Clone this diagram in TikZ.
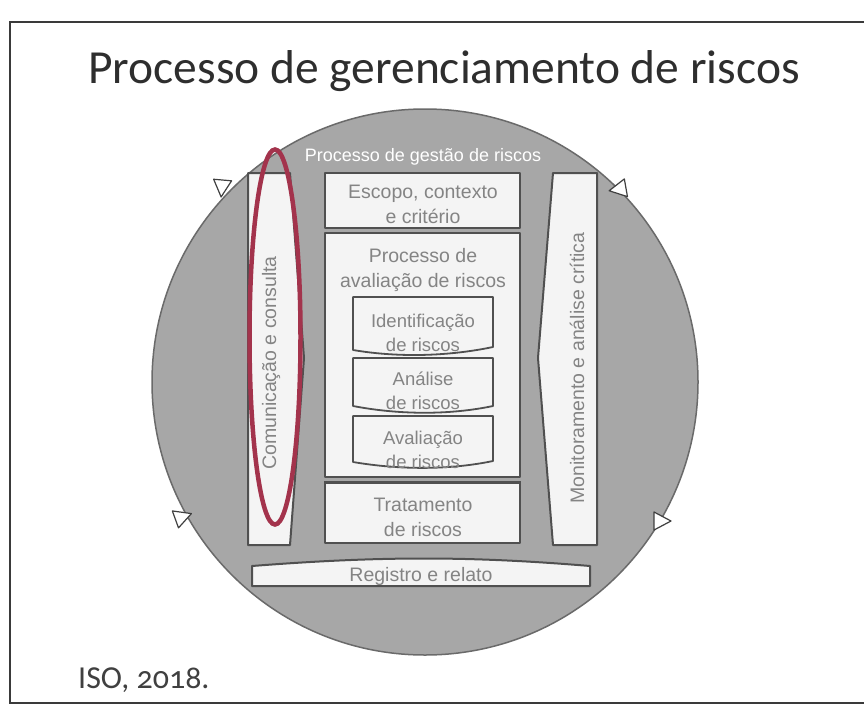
\documentclass[tikz,border=0pt]{standalone}
\usepackage{fontspec}
\setmainfont{Liberation Sans}
\newfontfamily\titlefont[Numbers=OldStyle]{Carlito}
\usetikzlibrary{shapes.geometric}
\definecolor{wheelgray}{HTML}{A7A7A7}
\definecolor{wheeledge}{HTML}{6A6A6A}
\definecolor{boxfill}{HTML}{F4F4F4}
\definecolor{boxedge}{HTML}{505050}
\definecolor{boxtext}{HTML}{848484}
\definecolor{ringred}{HTML}{A3334C}
\definecolor{frameline}{HTML}{3A3A3A}
\begin{document}
\begin{tikzpicture}[x=1pt,y=-1pt,
  boxstyle/.style={draw=boxedge, line width=2pt, fill=boxfill, line join=round},
  boxtxt/.style={text=boxtext, font=\fontsize{19.5}{25}\selectfont, align=center, inner sep=0pt},
  doctxt/.style={text=boxtext, font=\fontsize{18.5}{24}\selectfont, align=center, inner sep=0pt},
  arrowtri/.style={draw=black!75, fill=white, line width=1.2pt, line join=round},
]
\useasboundingbox (0,0) rectangle (864,709);
\fill[white] (0,0) rectangle (864,709);
\draw[frameline, line width=1.5pt] (880,22) -- (10,22) -- (10,703) -- (880,703);

\node[anchor=base, font=\titlefont\fontsize{47.5}{52}\selectfont, text=black!82, inner sep=0] (title) at (444,83) {Processo de gerenciamento de riscos};

\node[circle, draw=wheeledge, line width=1.5pt, fill=wheelgray, minimum size=546pt, inner sep=0] (wheel) at (425,382) {};

\foreach \px/\py/\ang in {222/187/265, 619/189/190, 182/517/20, 661/521/0}{
  \draw[arrowtri, shift={(\px,\py)}, rotate=\ang] (10,0) -- (-7,9) -- (-7,-9) -- cycle;
}

\node[text=white, font=\fontsize{18}{20}\selectfont, inner sep=0] (gestao) at (423,157) {Processo de gestão de riscos};

% left bar
\draw[boxstyle] (248,173) -- (290,173) -- (304,358) -- (290,545) -- (248,545) -- cycle;
\node[boxtxt, rotate=90] (comm) at (271,363) {Comunicação e consulta};

% right bar
\draw[boxstyle] (553,173) -- (597,173) -- (597,545) -- (553,545) -- (538,358) -- cycle;
\node[boxtxt, rotate=90] (monit) at (577,368) {Monitoramento e análise crítica};

% escopo
\node[boxstyle, minimum width=195pt, minimum height=55pt, inner sep=0] (escopo) at (422.5,200.5) {};
\node[boxtxt] (escopotxt) at (423,204) {Escopo, contexto\\e critério};

% avaliacao outer
\node[boxstyle, minimum width=195pt, minimum height=244pt, inner sep=0] (aval) at (422.5,355) {};
\node[boxtxt] (avaltxt) at (423,270) {Processo de\\avaliação de riscos};

% document shapes
\draw[boxstyle, line width=1.8pt] (353,297) -- (493,297) -- (493,347) .. controls (450,356) and (400,358) .. (353,350) -- cycle;
\node[doctxt] (ident) at (423,333) {Identificação\\de riscos};
\draw[boxstyle, line width=1.8pt] (353,358) -- (493,358) -- (493,406) .. controls (450,415) and (400,415) .. (353,406) -- cycle;
\node[doctxt] (anal) at (423,391) {Análise\\de riscos};
\draw[boxstyle, line width=1.8pt] (353,416) -- (493,416) -- (493,461) .. controls (450,470) and (400,470) .. (353,462) -- cycle;
\node[doctxt] (avalr) at (423,450) {Avaliação\\de riscos};

% tratamento
\node[boxstyle, minimum width=195pt, minimum height=60pt, inner sep=0] (trat) at (422.5,513) {};
\draw[boxedge, line width=3pt] (trat.north west) -- (trat.north east);
\node[boxtxt] (trattxt) at (423,517) {Tratamento\\de riscos};

% registro
\draw[boxstyle] (252,566) .. controls (380,556) and (470,556) .. (590,566) -- (590,586) -- (252,586) -- cycle;
\node[boxtxt] (reg) at (421,576) {Registro e relato};

% red mark
\node[ellipse, draw=ringred, line width=4.5pt, minimum width=51pt, minimum height=375pt, inner sep=0] (mark) at (275,337) {};

\node[anchor=base west, font=\titlefont\fontsize{32}{36}\selectfont, text=black!75, inner sep=0] (iso) at (78,688) {ISO, 2018.};
\end{tikzpicture}
\end{document}
